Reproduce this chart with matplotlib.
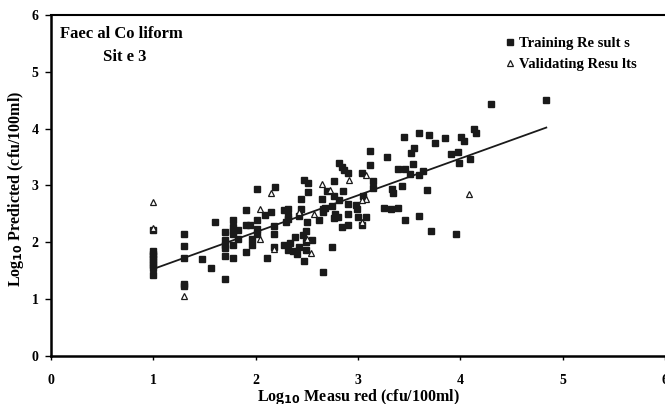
import matplotlib
matplotlib.use("Agg")
import matplotlib.pyplot as plt
import numpy as np

train_x = [1.00, 1.00, 1.00, 1.00, 1.00, 1.00, 1.00, 1.00, 1.00,
           1.30, 1.30, 1.30, 1.30, 1.30,
           1.48, 1.56, 1.60,
           1.70, 1.70, 1.70, 1.70, 1.70, 1.70,
           1.78, 1.78, 1.78, 1.78, 1.78, 1.78, 1.83, 1.83,
           2.19, 2.01, 2.47, 2.51, 2.51, 2.70, 2.44, 2.65, 1.91, 2.15,
           2.09, 2.28, 2.32, 2.44, 2.66, 2.66, 2.32, 2.32, 2.42, 2.62,
           2.50, 2.30, 2.01, 1.91, 1.94, 2.01, 2.18, 2.01, 2.18, 1.96,
           1.96, 2.38, 2.49, 2.46, 2.55, 2.49, 2.34, 2.28, 2.18, 2.32,
           2.36, 2.42, 2.40, 2.49, 1.91, 2.11, 2.47, 2.66,
           3.45, 3.60, 3.55, 3.52, 3.12, 3.28, 2.81, 2.84, 2.86, 2.90,
           3.04, 3.12, 3.39, 3.46, 3.54, 3.51, 3.60, 2.77, 3.15, 3.43,
           3.15, 3.33, 3.34, 2.85, 2.77, 2.81, 3.05, 2.75, 2.90, 2.98,
           2.99, 2.68, 3.25, 3.32, 3.39, 2.78, 2.80, 2.77, 2.90, 3.00,
           3.08, 3.46, 3.60, 3.04, 2.90, 2.84, 2.75,
           4.30, 4.84, 4.13, 4.15, 3.69, 3.75, 3.85, 4.01, 4.04, 3.91,
           3.98, 3.99, 4.09, 3.64, 3.67, 3.71, 3.96]
train_y = [2.21, 1.85, 1.80, 1.75, 1.70, 1.65, 1.60, 1.55, 1.43,
           2.15, 1.93, 1.73, 1.27, 1.23,
           1.70, 1.54, 2.35,
           2.18, 2.04, 1.95, 1.90, 1.75, 1.35,
           2.39, 2.26, 2.20, 2.14, 1.96, 1.73, 2.21, 2.05,
           2.98, 2.94, 3.09, 3.04, 2.89, 2.91, 2.77, 2.77, 2.56, 2.54,
           2.48, 2.56, 2.59, 2.59, 2.59, 2.54, 2.47, 2.41, 2.46, 2.39,
           2.36, 2.36, 2.39, 2.30, 2.30, 2.24, 2.29, 2.14, 2.15, 2.06,
           1.95, 2.10, 2.19, 2.13, 2.04, 2.01, 1.99, 1.95, 1.92, 1.87,
           1.85, 1.91, 1.79, 1.86, 1.83, 1.73, 1.67, 1.47,
           3.86, 3.92, 3.66, 3.57, 3.61, 3.50, 3.40, 3.33, 3.28, 3.22,
           3.22, 3.36, 3.29, 3.29, 3.38, 3.20, 3.19, 3.07, 3.08, 2.99,
           2.96, 2.94, 2.87, 2.91, 2.82, 2.75, 2.82, 2.63, 2.68, 2.66,
           2.58, 2.60, 2.61, 2.58, 2.61, 2.50, 2.44, 2.43, 2.49, 2.44,
           2.44, 2.40, 2.46, 2.30, 2.30, 2.26, 1.92,
           4.43, 4.50, 3.99, 3.92, 3.88, 3.75, 3.83, 3.85, 3.78, 3.55,
           3.59, 3.40, 3.47, 3.26, 2.92, 2.20, 2.15]

# Validating results
valid_x = [1.00, 1.00, 1.30, 2.15, 2.65, 2.04, 2.42, 2.57, 2.04, 2.18,
           2.54, 3.08, 2.91, 2.73, 3.08, 3.04, 3.04, 4.08, 2.50]
valid_y = [2.71, 2.25, 1.06, 2.87, 3.02, 2.58, 2.54, 2.49, 2.05, 1.89,
           1.81, 3.19, 3.10, 2.92, 2.77, 2.74, 2.36, 2.85, 2.06]

# Fitted line: slope, intercept, x range
fit_slope = 0.648
fit_intercept = 0.882
fit_range = [1.0, 4.84]

fig = plt.figure(figsize=(6.65, 4.04), dpi=100)
ax = fig.add_axes([0.0767, 0.119, 0.9233, 0.844])

font = 'Liberation Serif'

ax.plot(train_x, train_y, 's', color='#1a1a1a', markersize=4.2,
        linestyle='none', label='Training Re sult s')
ax.plot(valid_x, valid_y, '^', markerfacecolor='white', markeredgecolor='#1a1a1a',
        markersize=4.5, markeredgewidth=0.9, linestyle='none',
        label='Validating Resu lts')

fx = np.array(fit_range)
ax.plot(fx, fit_slope * fx + fit_intercept, color='#1a1a1a', linewidth=1.3)

ax.set_xlim(0, 6)
ax.set_ylim(0, 6)
ax.set_xticks(range(0, 7))
ax.set_yticks(range(0, 7))
ax.tick_params(axis='x', direction='out', length=3, width=1, pad=10)
ax.tick_params(axis='y', direction='out', length=4, width=1, pad=5)
for lab in ax.get_xticklabels() + ax.get_yticklabels():
    lab.set_fontfamily(font)
    lab.set_fontweight('bold')
    lab.set_fontsize(10)

ax.spines['left'].set_linewidth(1.8)
ax.spines['bottom'].set_linewidth(1.8)
ax.spines['top'].set_linewidth(1.5)
ax.spines['right'].set_visible(False)

ax.set_xlabel('Log$_{\\mathbf{10}}$ Measu red (cfu/100ml)', fontfamily=font,
              fontweight='bold', fontsize=11.5, labelpad=0)
ax.set_ylabel('Log$_{\\mathbf{10}}$ Predicted (cfu/100ml)', fontfamily=font,
              fontweight='bold', fontsize=11.5)
ax.yaxis.set_label_coords(-0.041, 0.49)

ax.text(0.015, 0.968, 'Faec al Co liform', transform=ax.transAxes,
        fontfamily=font, fontweight='bold', fontsize=12, va='top')
ax.text(0.085, 0.90, 'Sit e 3', transform=ax.transAxes,
        fontfamily=font, fontweight='bold', fontsize=12, va='top')

leg = ax.legend(loc='upper right', bbox_to_anchor=(0.975, 0.975), frameon=False,
                prop={'family': font, 'weight': 'bold', 'size': 10.5},
                handletextpad=0.1, handlelength=1.0, labelspacing=0.55)

plt.savefig('out.png', dpi=100)
